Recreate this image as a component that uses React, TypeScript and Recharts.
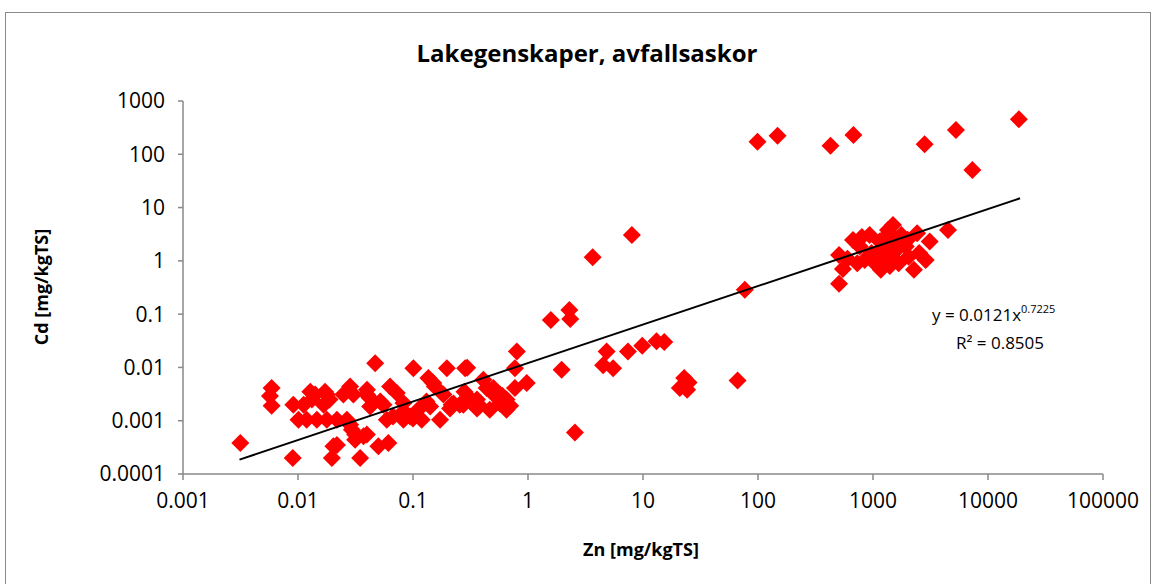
import React from 'react';
import { ScatterChart, Scatter, XAxis, YAxis } from 'recharts';

// Zn [mg/kgTS]
const zn: number[] = [
  0.00315, 0.0059, 0.0057, 0.0059, 0.009, 0.0091, 0.0101, 0.0112, 0.0119, 0.0132,
  0.0141, 0.0146, 0.0167, 0.0178, 0.0188, 0.0178, 0.0203, 0.0197, 0.0218, 0.0248,
  0.0284, 0.0303, 0.0266, 0.0294, 0.0314, 0.0347, 0.0371, 0.0397, 0.0424, 0.0469,
  0.05, 0.0611, 0.0553, 0.0592, 0.0632, 0.0723, 0.0826, 0.0826, 0.1007, 0.0944,
  0.119, 0.136, 0.15, 0.141, 0.172, 0.197, 0.184, 0.217, 0.284, 0.274,
  0.0128, 0.0172, 0.0398, 0.0218, 0.0314, 0.0284, 0.296, 0.155, 0.409, 0.5,
  0.57, 0.65, 0.31, 0.36, 0.465, 0.65, 0.255, 0.21, 0.111, 0.131,
  0.083, 0.052, 0.042, 0.067, 0.1, 0.0397, 0.8, 0.77, 0.77, 0.975,
  0.6, 0.7, 1.96, 2.56, 4.83, 4.5, 5.5, 7.4, 3.65, 8.0,
  1.58, 2.29, 2.33, 9.85, 13.1, 15.3, 22.8, 24.9, 20.9, 24.2,
  66.4, 76.8, 0.36, 0.437, 0.52, 0.57, 0.38, 0.225, 0.28,
  99, 148, 427, 676, 2812, 5260, 7310, 18550,
  507, 507, 548, 670, 767, 935, 847, 1143, 1492, 1370,
  1765, 1260, 1170, 1040, 1600, 1670, 1930, 2420, 2520, 2270,
  3110, 2870, 4490, 2040, 970, 730, 1300, 1450, 1550, 1200,
  1700, 1100, 1400, 600, 800, 2000, 1350,
];

// Cd [mg/kgTS]
const cd: number[] = [
  0.00038, 0.0041, 0.0029, 0.0019, 0.0002, 0.002, 0.00104, 0.002, 0.00104, 0.0025,
  0.0031, 0.00104, 0.002, 0.0031, 0.0025, 0.00104, 0.00033, 0.0002, 0.00104, 0.0031,
  0.0044, 0.0031, 0.00104, 0.00068, 0.00044, 0.0002, 0.00051, 0.0031, 0.00185, 0.012,
  0.00033, 0.00038, 0.002, 0.00104, 0.0044, 0.0033, 0.00214, 0.00104, 0.0097, 0.0012,
  0.00104, 0.0063, 0.0051, 0.00185, 0.00104, 0.0097, 0.0031, 0.002, 0.0097, 0.002,
  0.0035, 0.0035, 0.0038, 0.00035, 0.00055, 0.00084, 0.0099, 0.0044, 0.0059, 0.0041,
  0.0031, 0.0025, 0.0027, 0.0017, 0.0016, 0.0016, 0.002, 0.0017, 0.0016, 0.0023,
  0.0015, 0.0023, 0.0027, 0.0012, 0.0011, 0.00055, 0.02, 0.0097, 0.0041, 0.0051,
  0.0029, 0.0019, 0.009, 0.0006, 0.02, 0.011, 0.0097, 0.02, 1.17, 3.07,
  0.078, 0.12, 0.081, 0.0255, 0.031, 0.03, 0.0063, 0.0052, 0.0041, 0.0038,
  0.0057, 0.286, 0.0025, 0.0041, 0.0029, 0.0021, 0.0019, 0.0021, 0.0035,
  172, 223, 145, 230, 154, 286, 50.8, 454,
  0.37, 1.29, 0.7, 2.47, 1.85, 3.07, 1.04, 2.3, 4.7, 3.3,
  3.07, 1.2, 0.68, 0.9, 1.6, 0.9, 1.85, 3.3, 1.4, 0.68,
  2.3, 1.04, 3.8, 1.2, 1.4, 0.9, 2.0, 1.3, 2.6, 1.6,
  2.2, 1.1, 0.8, 1.1, 2.8, 2.5, 3.8,
];

// power trend line: y = 0.0121 x^0.7225
const trendCoef = 0.0121;
const trendExp = 0.7225;
const trendX: number[] = [0.0031, 19000];

const xTicks: number[] = [0.001, 0.01, 0.1, 1, 10, 100, 1000, 10000, 100000];
const xTickLabels: string[] = ['0.001', '0.01', '0.1', '1', '10', '100', '1000', '10000', '100000'];
const yTicks: number[] = [0.0001, 0.001, 0.01, 0.1, 1, 10, 100, 1000];
const yTickLabels: string[] = ['0.0001', '0.001', '0.01', '0.1', '1', '10', '100', '1000'];

const points = zn.map((x, i) => ({ x, y: cd[i] }));
const trendData = trendX.map((x) => ({ x, y: trendCoef * Math.pow(x, trendExp) }));

const FONT = '"Open Sans", sans-serif';
const AXIS = '#898989';

const Diamond = (props: any) => {
  const { cx, cy } = props;
  if (cx == null || cy == null) return <g />;
  const r = 9;
  return (
    <polygon
      points={`${cx},${cy - r} ${cx + r},${cy} ${cx},${cy + r} ${cx - r},${cy}`}
      fill="#ff0000"
    />
  );
};

const NoShape = () => <g />;

export default function App() {
  return (
    <div
      style={{
        position: 'absolute',
        left: 0,
        top: 0,
        width: 1156,
        height: 584,
        background: '#ffffff',
        overflow: 'hidden',
        fontFamily: FONT,
      }}
    >
      <div
        style={{
          position: 'absolute',
          left: 5,
          top: 12,
          width: 1146,
          height: 640,
          border: '1.5px solid #8a8a8a',
          boxSizing: 'border-box',
        }}
      />
      <div style={{ position: 'absolute', left: 0, top: 0 }}>
        <ScatterChart
          width={1156}
          height={584}
          margin={{ top: 101, right: 53, bottom: 70, left: 103 }}
        >
          <XAxis
            type="number"
            dataKey="x"
            scale="log"
            domain={[0.001, 100000]}
            ticks={xTicks}
            allowDataOverflow
            height={40}
            stroke={AXIS}
            strokeWidth={1.5}
            tickSize={6}
            tickMargin={13}
            tick={{ fill: '#000', fontSize: 21, fontFamily: FONT }}
            tickFormatter={(v: number) => {
              const i = xTicks.indexOf(v);
              return i >= 0 ? xTickLabels[i] : String(v);
            }}
          />
          <YAxis
            type="number"
            dataKey="y"
            scale="log"
            domain={[0.0001, 1000]}
            ticks={yTicks}
            allowDataOverflow
            width={80}
            stroke={AXIS}
            strokeWidth={1.5}
            tickSize={5}
            tickMargin={13}
            tick={{ fill: '#000', fontSize: 21, fontFamily: FONT }}
            tickFormatter={(v: number) => {
              const i = yTicks.indexOf(v);
              return i >= 0 ? yTickLabels[i] : String(v);
            }}
          />
          <Scatter data={points} shape={Diamond} isAnimationActive={false} />
          <Scatter
            data={trendData}
            shape={NoShape}
            line={{ stroke: '#000000', strokeWidth: 2 }}
            lineType="joint"
            isAnimationActive={false}
          />
        </ScatterChart>
      </div>
      <svg
        width={1156}
        height={584}
        style={{ position: 'absolute', left: 0, top: 0, pointerEvents: 'none' }}
      >
        <text x={587} y={62} textAnchor="middle" fontFamily={FONT} fontWeight="bold" fontSize={24} fill="#000">
          Lakegenskaper, avfallsaskor
        </text>
        <text x={641} y={556} textAnchor="middle" fontFamily={FONT} fontWeight="bold" fontSize={18} fill="#000">
          Zn [mg/kgTS]
        </text>
        <text
          x={48}
          y={287}
          textAnchor="middle"
          transform="rotate(-90, 48, 287)"
          fontFamily={FONT}
          fontWeight="bold"
          fontSize={18}
          fill="#000"
        >
          Cd [mg/kgTS]
        </text>
        <text x={932} y={321} fontFamily={FONT} fontSize={17} fill="#000">
          y = 0.0121x
          <tspan fontSize={11} dy={-8}>0.7225</tspan>
        </text>
        <text x={956} y={349} fontFamily={FONT} fontSize={17} fill="#000">
          R² = 0.8505
        </text>
      </svg>
    </div>
  );
}
